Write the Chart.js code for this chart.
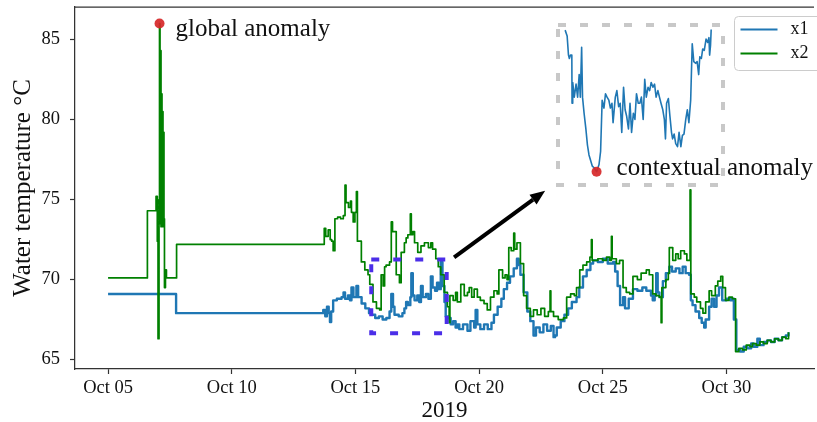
<!DOCTYPE html>
<html>
<head>
<meta charset="UTF-8">
<title>Water temperature</title>
<script src="https://cdn.jsdelivr.net/npm/chart.js"></script>
<style>
  html, body { margin: 0; padding: 0; background: #fff; overflow: hidden; }
  #wrap { position: relative; width: 819px; height: 422px; }
  #main { position: absolute; left: 0; top: 0; }
  #inset { position: absolute; left: 553px; top: 20px; }
</style>
</head>
<body>
<div id="wrap">
  <canvas id="main" width="819" height="422"></canvas>
  <canvas id="inset" width="264" height="170"></canvas>
</div>
<script>
// day of October 2019 (fractional) and water temperature in °C
const x1Day = [
  5.00, 7.75, 13.70, 13.78, 13.85, 13.92, 13.97, 14.02, 14.10, 14.25,
  14.44, 14.52, 14.58, 14.70, 14.78, 14.84, 14.92, 15.04, 15.11, 15.25,
  15.40, 15.55, 15.64, 15.80, 15.95, 16.10, 16.25, 16.38, 16.45, 16.52,
  16.58, 16.75, 16.90, 16.98, 17.05, 17.12, 17.22, 17.26, 17.32, 17.39,
  17.50, 17.58, 17.65, 17.72, 17.85, 17.95, 18.05, 18.12, 18.22, 18.30,
  18.38, 18.45, 18.52, 18.60, 18.65, 18.75, 18.85, 18.95, 19.05, 19.12,
  19.20, 19.35, 19.53, 19.65, 19.80, 19.86, 19.93, 20.05, 20.20, 20.35,
  20.50, 20.60, 20.75, 20.90, 21.00, 21.13, 21.25, 21.40, 21.53, 21.60,
  21.67, 21.80, 21.95, 22.07, 22.20, 22.30, 22.45, 22.60, 22.75, 22.90,
  23.01, 23.07, 23.14, 23.30, 23.45, 23.60, 23.75, 23.94, 24.05, 24.20,
  24.35, 24.50, 24.61, 24.80, 25.00, 25.20, 25.42, 25.50, 25.60, 25.70,
  25.82, 25.90, 26.05, 26.22, 26.40, 26.60, 26.76, 26.95, 27.02, 27.10,
  27.16, 27.22, 27.29, 27.43, 27.55, 27.69, 27.80, 27.95, 28.10, 28.23,
  28.35, 28.49, 28.56, 28.63, 28.75, 28.90, 29.00, 29.10, 29.16, 29.30,
  29.40, 29.50, 29.60, 29.70, 29.83, 30.00, 30.15, 30.24, 30.30, 30.40,
  30.55, 30.70, 30.85, 31.00, 31.10, 31.25, 31.35, 31.50, 31.65, 31.80,
  31.95, 32.10, 32.25, 32.40, 32.51
];
const x1Temp = [
  69.1, 67.9, 68.1, 67.7, 68.3, 67.9, 67.35, 68.0, 68.7, 68.8,
  68.9, 69.2, 68.8, 69.0, 68.7, 69.5, 68.9, 69.6, 68.9, 68.5,
  68.2, 67.9, 67.8, 67.6, 67.7, 67.5, 67.6, 68.0, 69.1, 68.3,
  67.8, 67.7, 67.9, 68.2, 68.6, 68.4, 68.9, 70.4, 69.0, 68.7,
  69.0, 68.6, 69.6, 68.9, 69.1, 68.8, 70.2, 69.5, 69.3, 69.8,
  69.4, 71.1, 69.6, 68.6, 67.7, 67.6, 67.2, 67.4, 67.0, 67.2,
  66.9, 67.2, 66.8, 67.4, 67.0, 68.1, 67.2, 66.9, 67.2, 66.9,
  67.3, 67.8, 68.3, 68.8, 69.4, 69.8, 70.2, 70.7, 71.3, 70.9,
  70.3, 69.2, 68.0, 67.4, 66.5, 67.0, 66.7, 67.2, 66.8, 67.1,
  66.4, 66.5, 67.0, 67.4, 67.8, 68.2, 68.6, 68.9, 69.5, 70.2,
  70.6, 71.0, 71.2, 71.1, 71.3, 71.0, 71.1, 70.5, 69.6, 68.4,
  68.9, 68.2, 68.8, 69.4, 69.3, 69.5, 69.3, 69.0, 68.7, 69.0,
  70.4, 69.2, 68.9, 69.9, 70.4, 70.8, 70.5, 70.7, 70.4, 70.8,
  70.4, 70.3, 68.7, 68.4, 68.0, 67.6, 67.3, 67.0, 67.5, 68.3,
  68.8, 68.3, 69.0, 69.5, 68.7, 68.8, 68.7, 68.8, 67.5, 65.6,
  65.5, 65.8, 65.7, 66.0, 65.8, 66.3, 65.9, 66.1, 66.2, 66.1,
  66.3, 66.2, 66.4, 66.5, 66.7
];
const x2Day = [
  5.00, 6.59, 6.94, 6.99, 7.02, 7.06, 7.08, 7.10, 7.12, 7.14,
  7.16, 7.18, 7.20, 7.22, 7.24, 7.26, 7.28, 7.32, 7.36, 7.77,
  13.70, 13.74, 13.80, 13.90, 13.98, 14.04, 14.10, 14.17, 14.28, 14.40,
  14.51, 14.58, 14.62, 14.72, 14.80, 14.84, 14.91, 14.98, 15.04, 15.08,
  15.24, 15.38, 15.51, 15.58, 15.71, 15.85, 15.98, 16.04, 16.12, 16.18,
  16.24, 16.38, 16.45, 16.50, 16.58, 16.65, 16.78, 16.85, 16.98, 17.05,
  17.12, 17.22, 17.26, 17.32, 17.39, 17.52, 17.65, 17.79, 17.95, 18.05,
  18.12, 18.25, 18.35, 18.45, 18.59, 18.72, 18.79, 18.82, 18.95, 19.05,
  19.12, 19.26, 19.40, 19.53, 19.60, 19.70, 19.80, 19.93, 20.05, 20.20,
  20.33, 20.46, 20.60, 20.73, 20.80, 20.95, 21.05, 21.13, 21.20, 21.30,
  21.40, 21.44, 21.53, 21.67, 21.80, 21.92, 22.07, 22.20, 22.35, 22.50,
  22.65, 22.80, 22.87, 22.90, 23.01, 23.20, 23.41, 23.54, 23.70, 23.85,
  23.94, 24.07, 24.20, 24.35, 24.48, 24.54, 24.57, 24.80, 25.00, 25.15,
  25.28, 25.35, 25.38, 25.55, 25.68, 25.82, 25.95, 26.09, 26.22, 26.40,
  26.55, 26.76, 26.88, 27.02, 27.15, 27.29, 27.36, 27.39, 27.55, 27.65,
  27.69, 27.83, 27.95, 28.05, 28.15, 28.30, 28.40, 28.53, 28.56, 28.70,
  28.80, 28.95, 29.05, 29.16, 29.30, 29.40, 29.55, 29.65, 29.77, 29.85,
  29.96, 30.10, 30.24, 30.37, 30.50, 30.65, 30.80, 30.95, 31.05, 31.20,
  31.35, 31.50, 31.65, 31.80, 31.95, 32.10, 32.25, 32.40, 32.51
];
const x2Temp = [
  70.1, 74.3, 75.2, 72.4, 66.3, 75.0, 86.0, 73.5, 84.3, 73.3,
  81.6, 74.0, 80.5, 73.3, 79.2, 73.8, 69.5, 70.6, 70.1, 72.2,
  72.2, 73.2, 72.7, 73.1, 72.5, 72.4, 71.8, 73.8, 73.9, 73.8,
  74.0, 75.9, 74.8, 74.5, 74.9, 74.2, 73.6, 74.2, 75.5, 72.4,
  71.1, 70.6, 70.3, 69.7, 68.6, 68.2, 68.1, 70.3, 69.6, 70.8,
  70.9, 71.1, 73.6, 73.0, 73.0, 70.3, 69.8, 71.7, 72.3, 72.6,
  72.8, 74.1, 72.8, 73.0, 72.3, 71.7, 72.1, 72.3, 72.0, 72.3,
  71.9, 71.3, 70.8, 70.3, 69.2, 68.3, 67.3, 69.0, 68.7, 69.2,
  68.6, 69.7, 69.0, 69.2, 69.5, 68.9, 69.4, 68.9, 68.7, 68.5,
  68.1, 68.9, 69.3, 69.1, 70.6, 70.1, 70.3, 70.0, 72.0, 71.8,
  72.9, 71.9, 72.3, 71.0, 69.0, 68.2, 67.7, 68.1, 67.8, 68.2,
  67.7, 68.0, 69.3, 68.0, 67.7, 67.5, 67.6, 68.9, 69.1, 69.0,
  69.5, 70.6, 70.9, 71.1, 71.4, 72.5, 71.2, 71.3, 71.2, 71.4,
  71.2, 72.7, 71.3, 71.0, 71.2, 69.5, 69.2, 69.1, 70.2, 70.0,
  70.4, 70.6, 70.3, 69.1, 69.0, 68.9, 67.3, 69.5, 70.0, 70.4,
  72.0, 71.2, 71.6, 71.3, 71.8, 71.6, 71.2, 75.6, 69.1, 68.9,
  68.6, 68.2, 67.9, 68.6, 69.3, 69.0, 69.6, 69.9, 70.2, 69.5,
  68.7, 68.9, 68.8, 65.5, 65.7, 65.6, 65.9, 65.8, 66.0, 65.9,
  66.1, 66.0, 66.2, 66.1, 66.3, 66.2, 66.4, 66.3, 66.7
];

const tickDays = [5, 10, 15, 20, 25, 30];
const tickLabels = ['Oct 05', 'Oct 10', 'Oct 15', 'Oct 20', 'Oct 25', 'Oct 30'];
const tempTicks = [65, 70, 75, 80, 85];

const globalAnomaly = [7.08, 86.0];
const zoomBox = [15.64, 18.69, 66.64, 71.26];   // day from, day to, low, high
const arrowFrom = [18.99, 71.39];
const arrowTo = [22.67, 75.55];

// zoomed x1, hours from the start of the box
const insetHour = [
  3.2, 4.1, 4.7, 5.1, 5.6, 6.2, 6.3, 6.6, 7.3, 8.1,
  8.8, 9.5, 10.0, 10.6, 11.0, 11.7, 12.5, 13.2, 13.9, 14.7,
  15.4, 16.1, 17.3, 18.4, 19.1, 19.8, 20.6, 21.3, 22.0, 22.8,
  23.5, 24.2, 24.7, 25.7, 26.4, 27.2, 27.9, 28.6, 29.4, 30.1,
  30.8, 31.6, 32.3, 33.0, 33.8, 34.5, 35.2, 36.0, 36.7, 37.4,
  38.2, 38.9, 39.6, 40.4, 41.1, 41.8, 42.6, 43.3, 44.0, 44.8,
  45.5, 46.2, 47.0, 47.7, 48.2, 48.7, 49.5, 50.2, 50.9, 51.4,
  52.1, 52.8, 53.6, 54.3, 55.1, 55.8, 56.5, 57.3, 58.0, 58.7,
  59.5, 60.2, 60.9, 61.7, 62.4, 63.1, 63.6, 64.3, 64.9, 65.6,
  66.4, 67.1, 67.7, 68.0, 68.4, 68.7
];
const insetTemp = [
  71.19, 71.02, 70.46, 70.36, 70.46, 70.46, 69.05, 69.66, 69.23, 69.61,
  69.23, 69.89, 69.23, 70.69, 69.23, 68.76, 68.30, 67.83, 67.54, 67.36,
  67.21, 67.17, 67.05, 67.26, 67.64, 69.14, 68.91, 69.33, 69.23, 69.14,
  68.91, 69.05, 68.48, 69.23, 69.42, 68.95, 69.05, 68.20, 69.52, 68.86,
  68.67, 68.30, 69.05, 68.20, 68.76, 68.58, 69.33, 69.05, 69.05, 69.23,
  68.58, 69.75, 69.23, 69.52, 69.42, 69.66, 69.52, 69.61, 69.23, 69.42,
  69.23, 69.05, 68.86, 68.58, 68.01, 69.05, 69.19, 68.67, 68.20, 68.01,
  68.15, 67.87, 67.78, 68.20, 67.78, 68.11, 68.15, 68.58, 68.86, 68.48,
  69.14, 70.79, 70.27, 70.22, 70.27, 69.89, 70.41, 70.36, 70.64, 70.60,
  70.93, 70.83, 70.97, 70.46, 70.74, 71.21
];
const contextualAnomaly = [17.3, 67.05];

const serif = "'Liberation Serif', 'Times New Roman', serif";
const red = 'rgba(214, 39, 40, 0.92)';
const spine = '#333333';
Chart.defaults.font.family = serif;
Chart.defaults.color = '#111';

function pairs(xs, ys) {
  return xs.map((v, i) => ({ x: v, y: ys[i] }));
}

// box, arrow, top spine, legend, label of the global anomaly
const decorations = {
  id: 'decorations',
  afterDatasetsDraw(chart) {
    const { ctx, scales: { x, y } } = chart;
    ctx.save();
    const bx0 = x.getPixelForValue(zoomBox[0]), bx1 = x.getPixelForValue(zoomBox[1]);
    const by0 = y.getPixelForValue(zoomBox[3]), by1 = y.getPixelForValue(zoomBox[2]);
    ctx.strokeStyle = '#4b2ee8';
    ctx.lineWidth = 4;
    ctx.setLineDash([8, 14]);
    ctx.strokeRect(bx0, by0, bx1 - bx0, by1 - by0);
    ctx.setLineDash([]);

    const ax0 = x.getPixelForValue(arrowFrom[0]), ay0 = y.getPixelForValue(arrowFrom[1]);
    const ax1 = x.getPixelForValue(arrowTo[0]), ay1 = y.getPixelForValue(arrowTo[1]);
    const ang = Math.atan2(ay1 - ay0, ax1 - ax0);
    const head = 15, half = 6;
    const hx = ax1 - head * Math.cos(ang), hy = ay1 - head * Math.sin(ang);
    ctx.strokeStyle = '#000';
    ctx.lineWidth = 4;
    ctx.beginPath();
    ctx.moveTo(ax0, ay0);
    ctx.lineTo(hx, hy);
    ctx.stroke();
    ctx.fillStyle = '#000';
    ctx.beginPath();
    ctx.moveTo(ax1, ay1);
    ctx.lineTo(hx + half * Math.sin(ang), hy - half * Math.cos(ang));
    ctx.lineTo(hx - half * Math.sin(ang), hy + half * Math.cos(ang));
    ctx.closePath();
    ctx.fill();
    ctx.restore();
  },
  afterDraw(chart) {
    const { ctx, chartArea: a, scales: { x, y } } = chart;
    ctx.save();
    ctx.strokeStyle = spine;
    ctx.lineWidth = 1.25;
    ctx.beginPath();
    ctx.moveTo(a.left, a.top);
    ctx.lineTo(a.right, a.top);
    ctx.stroke();

    // global anomaly label
    const gx = x.getPixelForValue(globalAnomaly[0]), gy = y.getPixelForValue(globalAnomaly[1]);
    ctx.fillStyle = '#111';
    ctx.font = '25px ' + serif;
    ctx.textBaseline = 'alphabetic';
    ctx.fillText('global anomaly', gx + 16, gy + 13);

    // legend, upper right
    const lx = 734.5, ly = 16.5;
    ctx.beginPath();
    ctx.roundRect(lx, ly, 110, 54, 4);
    ctx.fillStyle = 'rgba(255,255,255,0.85)';
    ctx.fill();
    ctx.strokeStyle = '#cccccc';
    ctx.lineWidth = 1;
    ctx.stroke();
    const items = ['x1', 'x2'].map(l => chart.data.datasets.find(d => d.label === l));
    ctx.font = '18px ' + serif;
    ctx.textBaseline = 'middle';
    items.forEach((d, i) => {
      const cy = ly + 13 + i * 24;
      ctx.strokeStyle = d.borderColor;
      ctx.lineWidth = 2;
      ctx.beginPath();
      ctx.moveTo(lx + 6, cy);
      ctx.lineTo(lx + 43, cy);
      ctx.stroke();
      ctx.fillStyle = '#111';
      ctx.fillText(d.label, lx + 56, cy);
    });
    ctx.restore();
  }
};

const axisCommon = {
  grid: { drawOnChartArea: false, drawTicks: true, tickLength: 5, tickColor: spine, tickWidth: 1.2 },
  border: { display: true, color: spine, width: 1.25 }
};

new Chart(document.getElementById('main'), {
  type: 'line',
  data: {
    datasets: [
      { label: 'x2', data: pairs(x2Day, x2Temp), borderColor: '#008000', borderWidth: 1.7,
        stepped: true, pointRadius: 0, order: 2 },
      { label: 'x1', data: pairs(x1Day, x1Temp), borderColor: '#1f77b4', borderWidth: 2.4,
        stepped: true, pointRadius: 0, order: 3 },
      { label: 'global anomaly', data: [{ x: globalAnomaly[0], y: globalAnomaly[1] }],
        showLine: false, pointRadius: 5, backgroundColor: red, borderWidth: 0, order: 1 }
    ]
  },
  options: {
    responsive: false,
    animation: false,
    layout: { padding: { top: 7, right: 0, bottom: 0, left: 0 } },
    elements: { line: { tension: 0, borderJoinStyle: 'round' } },
    plugins: { legend: { display: false }, tooltip: { enabled: false } },
    scales: {
      x: {
        type: 'linear', min: 3.663, max: 33.54,
        afterBuildTicks: s => { s.ticks = tickDays.map(v => ({ value: v })); },
        afterFit: s => { s.height = 53; s.paddingLeft = 0; s.paddingRight = 0; },
        ticks: { callback: v => tickLabels[tickDays.indexOf(v)], font: { size: 18.5 },
                 padding: 3, maxRotation: 0, autoSkip: false },
        title: { display: true, text: '2019', font: { size: 23, lineHeight: 1.0 },
                 padding: { top: 0, bottom: 0 } },
        ...axisCommon
      },
      y: {
        min: 64.41, max: 87.03,
        afterBuildTicks: s => { s.ticks = tempTicks.map(v => ({ value: v })); },
        afterFit: s => { s.width = 75; s.paddingTop = 0; s.paddingBottom = 0; },
        ticks: { font: { size: 18.5 }, padding: 10 },
        title: { display: true, text: 'Water temperature °C', font: { size: 25 },
                 padding: { top: 8, bottom: 0 } },
        ...axisCommon
      }
    }
  },
  plugins: [decorations]
});

// dashed frame of the zoom panel and its label
const insetFrame = {
  id: 'insetFrame',
  afterDraw(chart) {
    const { ctx, chartArea: a, scales: { x, y } } = chart;
    ctx.save();
    ctx.strokeStyle = '#c8c8c8';
    ctx.lineWidth = 4;
    ctx.setLineDash([8, 14]);
    ctx.strokeRect(a.left, a.top, a.right - a.left, a.bottom - a.top);
    ctx.setLineDash([]);
    const cx = x.getPixelForValue(contextualAnomaly[0]), cy = y.getPixelForValue(contextualAnomaly[1]);
    ctx.fillStyle = '#111';
    ctx.font = '25px ' + serif;
    ctx.textBaseline = 'alphabetic';
    ctx.fillText('contextual anomaly', cx + 20, cy + 3);
    ctx.restore();
  }
};

new Chart(document.getElementById('inset'), {
  type: 'line',
  data: {
    datasets: [
      { label: 'x1 zoom', data: pairs(insetHour, insetTemp), borderColor: '#1f77b4',
        borderWidth: 1.6, pointRadius: 0, order: 2 },
      { label: 'contextual anomaly', data: [{ x: contextualAnomaly[0], y: contextualAnomaly[1] }],
        showLine: false, pointRadius: 5, backgroundColor: red, borderWidth: 0, order: 1 }
    ]
  },
  options: {
    responsive: false,
    animation: false,
    layout: { padding: { top: 2, right: 94, bottom: 2, left: 2 } },
    elements: { line: { tension: 0, borderJoinStyle: 'round' } },
    plugins: { legend: { display: false }, tooltip: { enabled: false } },
    scales: {
      x: { type: 'linear', display: false, min: 0, max: 74 },
      y: { display: false, min: 66.66, max: 71.34 }
    }
  },
  plugins: [insetFrame]
});
</script>
</body>
</html>
